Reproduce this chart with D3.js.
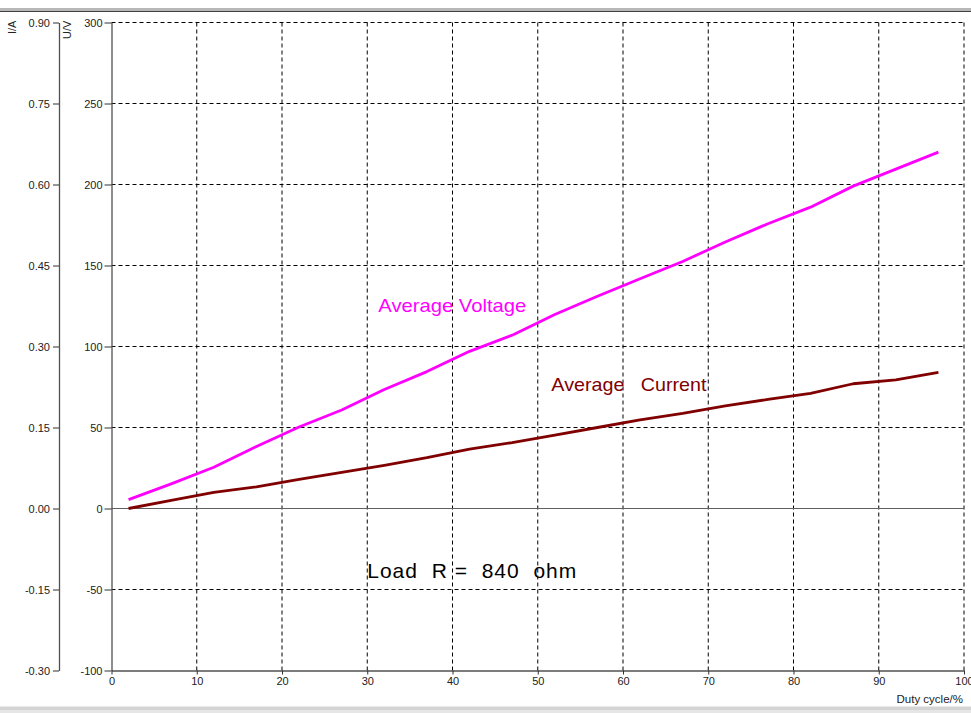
<!DOCTYPE html>
<html><head><meta charset="utf-8">
<script src="https://cdn.jsdelivr.net/npm/d3@7"></script>
<style>
html,body{margin:0;padding:0;background:#fff;overflow:hidden}
svg{display:block;font-family:Arial,"Liberation Sans",sans-serif}
</style></head>
<body>
<svg id="chart" width="971" height="713"></svg>
<script>
// ---- data ----
const duty = [2, 7, 12, 17, 22, 27, 32, 37, 42, 47, 52, 57, 62, 67, 72, 77, 82, 87, 92, 97];
const avgVoltage = [5.5, 15.2, 25.5, 38.3, 50.3, 60.8, 73.5, 84.5, 97, 107, 119.8, 131, 141.8, 152.5, 164.5, 175.8, 186, 199, 209.5, 220];
const avgCurrent = [0, 0.015, 0.03, 0.040, 0.054, 0.067, 0.080, 0.094, 0.110, 0.122, 0.136, 0.150, 0.164, 0.176, 0.190, 0.202, 0.213, 0.231, 0.238, 0.252];
const xTicks = [0, 10, 20, 30, 40, 50, 60, 70, 80, 90, 100];
const vTicks = [-100, -50, 0, 50, 100, 150, 200, 250, 300];
const iTicks = [-0.30, -0.15, 0.00, 0.15, 0.30, 0.45, 0.60, 0.75, 0.90];
const labels = {xTitle: "Duty cycle/%", vTitle: "U/V", iTitle: "I/A",
  voltage: "Average Voltage", current: "Average\u00a0\u00a0 Current", load: "Load\u00a0\u00a0R\u00a0=\u00a0\u00a0840\u00a0\u00a0ohm"};

// ---- layout ----
const svg = d3.select("#chart");
const x = d3.scaleLinear().domain([0, 100]).range([111.5, 964]);
const yV = d3.scaleLinear().domain([-100, 300]).range([670.5, 22.5]);
const yI = d3.scaleLinear().domain([-0.3, 0.9]).range([670.5, 22.5]);

// window frame bands
svg.append("rect").attr("x", 0).attr("y", 8).attr("width", 971).attr("height", 4).attr("fill", "#b8b8b8");
svg.append("line").attr("x1", 0).attr("x2", 971).attr("y1", 11.5).attr("y2", 11.5).attr("stroke", "#404040").attr("stroke-width", 1);
svg.append("rect").attr("x", 0).attr("y", 706.5).attr("width", 971).attr("height", 7).attr("fill", "#d4d4d4");
svg.append("rect").attr("x", 0).attr("y", 710).attr("width", 971).attr("height", 3).attr("fill", "#e6e6e6");

// grid
const grid = svg.append("g");
grid.selectAll("line.h").data(vTicks.filter(v => v !== -100 && v !== 0)).join("line")
  .attr("x1", x(0)).attr("x2", x(100)).attr("y1", d => yV(d)).attr("y2", d => yV(d))
  .attr("stroke", "#000").attr("stroke-dasharray", "4,3").attr("stroke-width", 1);
grid.selectAll("line.v").data(xTicks.filter(v => v !== 0)).join("line")
  .attr("x1", d => x(d)).attr("x2", d => x(d)).attr("y1", yV(300)).attr("y2", yV(-100))
  .attr("stroke", "#000").attr("stroke-dasharray", "4,3").attr("stroke-width", 1);
// zero line
svg.append("line").attr("x1", x(0)).attr("x2", x(100)).attr("y1", yV(0)).attr("y2", yV(0))
  .attr("stroke", "#606060").attr("stroke-width", 1.2);

// axes
function styleAxis(g) {
  g.select(".domain").attr("stroke", "#505050").attr("stroke-width", 1.3);
  g.selectAll(".tick line").attr("stroke", "#303030");
  g.selectAll(".tick text").attr("fill", "#222").style("font-size", "11px");
}
const fmtV = d => String(d);
const fmt2 = d => d3.format(".2f")(d).replace("\u2212", "-");
svg.append("g").attr("transform", `translate(${x(0)},0)`)
  .call(d3.axisLeft(yV).tickValues(vTicks).tickFormat(fmtV).tickSize(7).tickPadding(2).tickSizeOuter(0))
  .call(styleAxis);
svg.append("g").attr("transform", `translate(59,0)`)
  .call(d3.axisLeft(yI).tickValues(iTicks).tickFormat(fmt2).tickSize(6).tickPadding(3).tickSizeOuter(0))
  .call(styleAxis);
svg.append("g").attr("transform", `translate(0,${yV(-100)})`)
  .call(d3.axisBottom(x).tickValues(xTicks).tickFormat(fmtV).tickSize(4).tickPadding(3).tickSizeOuter(0))
  .call(styleAxis);

// axis titles
svg.append("text").attr("transform", "translate(16,34) rotate(-90)").attr("fill", "#222")
  .style("font-size", "11px").text(labels.iTitle);
svg.append("text").attr("transform", "translate(71,39) rotate(-90)").attr("fill", "#222")
  .style("font-size", "11px").text(labels.vTitle);
svg.append("text").attr("x", 963).attr("y", 703).attr("text-anchor", "end").attr("fill", "#222")
  .style("font-size", "11.5px").text(labels.xTitle);

// series
const lineV = d3.line().x((d, i) => x(duty[i])).y(d => yV(d));
const lineI = d3.line().x((d, i) => x(duty[i])).y(d => yI(d));
svg.append("path").datum(avgCurrent).attr("d", lineI).attr("fill", "none")
  .attr("stroke", "#800000").attr("stroke-width", 2.8).attr("stroke-linejoin", "round");
svg.append("path").datum(avgVoltage).attr("d", lineV).attr("fill", "none")
  .attr("stroke", "#ff00ff").attr("stroke-width", 2.8).attr("stroke-linejoin", "round");

// annotations
svg.append("text").attr("x", x(31.3)).attr("y", yV(121.6)).attr("fill", "#ff00ff")
  .style("font-size", "19px").attr("textLength", 148).attr("lengthAdjust", "spacingAndGlyphs").text(labels.voltage);
svg.append("text").attr("x", x(51.6)).attr("y", yV(72.5)).attr("fill", "#800000")
  .style("font-size", "19px").attr("textLength", 155).attr("lengthAdjust", "spacingAndGlyphs").text(labels.current);
svg.append("text").attr("x", x(30)).attr("y", yV(-42.6)).attr("fill", "#000")
  .style("font-size", "21px").attr("textLength", 209).attr("lengthAdjust", "spacing").text(labels.load);
</script>
</body></html>
